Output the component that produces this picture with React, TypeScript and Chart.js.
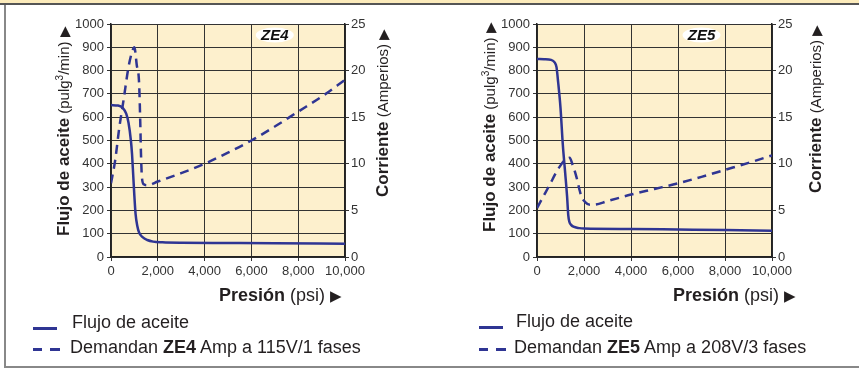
import React, { useEffect, useRef } from 'react';
import { Chart, registerables } from 'chart.js';

Chart.register(...registerables);

// ---------- DATA ----------
const xTickLabels = ['0', '2,000', '4,000', '6,000', '8,000', '10,000'];
const flowTickLabels = ['0', '100', '200', '300', '400', '500', '600', '700', '800', '900', '1000'];
const ampTickLabels = ['0', '5', '10', '15', '20', '25'];

// ZE4
const ze4FlowPressure = [0, 300, 500, 650, 750, 850, 900, 950, 1000, 1050, 1120, 1200, 1350, 1550, 1800, 2200, 3000, 5000, 7000, 10000];
const ze4Flow = [652, 650, 640, 615, 575, 500, 440, 350, 260, 185, 135, 105, 85, 73, 66, 63, 61, 60, 59, 57];
const ze4AmpPressure = [0, 180, 350, 540, 750, 900, 1000, 1100, 1200, 1250, 1280, 1320, 1400, 1550, 2000, 3000, 4000, 5000, 6000, 7000, 8000, 9000, 10000];
const ze4Amp = [7.9, 10.4, 13.8, 16.9, 20.4, 22.0, 22.5, 20.6, 18.7, 14.5, 11.2, 8.6, 7.8, 7.7, 8.1, 9.0, 10.0, 11.2, 12.5, 14.0, 15.6, 17.2, 19.0];

// ZE5
const ze5FlowPressure = [0, 300, 600, 750, 830, 900, 1000, 1100, 1200, 1280, 1330, 1380, 1450, 1550, 1800, 2000, 4000, 6000, 8000, 10000];
const ze5Flow = [850, 849, 846, 835, 815, 750, 640, 480, 360, 260, 180, 150, 138, 130, 124, 122, 120, 118, 116, 113];
const ze5AmpPressure = [0, 270, 540, 800, 966, 1150, 1390, 1500, 1677, 1800, 1889, 2050, 2250, 2400, 3000, 4000, 5000, 6000, 7000, 8000, 9000, 10000];
const ze5Amp = [5.25, 6.5, 7.75, 9.0, 9.7, 10.3, 10.65, 10.0, 8.6, 7.3, 6.5, 5.9, 5.6, 5.6, 6.0, 6.7, 7.3, 7.9, 8.6, 9.35, 10.1, 10.9];

const LINE = '#2f3593';
const PLOT_BG = '#fdf0cd';
const TEXT = '#333333';
const FONT = '"Liberation Sans", Arial, Helvetica, sans-serif';

type PanelProps = {
  left: number;
  width: number;
  yWidth: number;
  y1Width: number;
  flowP: number[];
  flow: number[];
  ampP: number[];
  amp: number[];
  tag: string;
};

const toPoints = (xs: number[], ys: number[]) => xs.map((x, i) => ({ x, y: ys[i] }));

function ChartPanel(p: PanelProps) {
  const ref = useRef<HTMLCanvasElement | null>(null);
  useEffect(() => {
    if (!ref.current) return;
    const bgPlugin = {
      id: 'bg',
      beforeDraw(chart: any) {
        const { ctx, chartArea: a } = chart;
        ctx.save();
        ctx.fillStyle = PLOT_BG;
        ctx.fillRect(a.left, a.top, a.right - a.left, a.bottom - a.top);
        ctx.restore();
      },
      afterDraw(chart: any) {
        const { ctx } = chart;
        const cx = chart.scales.x.getPixelForValue(7000);
        const cy = chart.scales.y.getPixelForValue(953);
        ctx.save();
        ctx.fillStyle = '#ffffff';
        ctx.beginPath();
        ctx.ellipse(cx, cy, 19, 7.5, 0, 0, Math.PI * 2);
        ctx.fill();
        ctx.fillStyle = '#111111';
        ctx.font = `italic bold 15px ${FONT}`;
        ctx.textAlign = 'center';
        ctx.textBaseline = 'middle';
        ctx.fillText(p.tag, cx, cy + 1);
        ctx.restore();
      },
    };
    const tickFont = { family: FONT, size: 13 };
    const chart = new Chart(ref.current, {
      type: 'line',
      data: {
        datasets: [
          {
            label: 'Flujo de aceite',
            data: toPoints(p.flowP, p.flow),
            borderColor: LINE,
            borderWidth: 2.5,
            pointRadius: 0,
            cubicInterpolationMode: 'monotone',
            yAxisID: 'y',
          },
          {
            label: 'Amp',
            data: toPoints(p.ampP, p.amp),
            borderColor: LINE,
            borderWidth: 2.5,
            borderDash: [9, 6],
            pointRadius: 0,
            cubicInterpolationMode: 'monotone',
            yAxisID: 'y1',
          },
        ],
      },
      options: {
        animation: false,
        responsive: false,
        devicePixelRatio: 1,
        layout: { padding: { left: 0, right: 0, top: 24, bottom: 88 } },
        plugins: { legend: { display: false }, tooltip: { enabled: false } },
        scales: {
          x: {
            type: 'linear',
            min: 0,
            max: 10000,
            ticks: {
              stepSize: 2000,
              autoSkip: false,
              maxRotation: 0,
              font: tickFont,
              color: TEXT,
              padding: 3,
              callback: (v: any) => xTickLabels[Math.round(v / 2000)],
            },
            grid: { color: '#333333', lineWidth: 1, tickLength: 4 },
            border: { color: '#222222', width: 1.5 },
            afterFit: (s: any) => { s.height = 24; },
          },
          y: {
            position: 'left',
            min: 0,
            max: 1000,
            ticks: {
              stepSize: 100,
              font: tickFont,
              color: TEXT,
              padding: 3,
              callback: (v: any) => flowTickLabels[Math.round(v / 100)],
            },
            grid: { color: '#333333', lineWidth: 1, tickLength: 4 },
            border: { color: '#222222', width: 1.5 },
            afterFit: (s: any) => { s.width = p.yWidth; },
          },
          y1: {
            position: 'right',
            min: 0,
            max: 25,
            ticks: {
              stepSize: 5,
              font: tickFont,
              color: TEXT,
              padding: 2,
              callback: (v: any) => ampTickLabels[Math.round(v / 5)],
            },
            grid: { drawOnChartArea: false, color: '#333333', tickLength: 4 },
            border: { color: '#222222', width: 1.5 },
            afterFit: (s: any) => { s.width = p.y1Width; },
          },
        },
      } as any,
      plugins: [bgPlugin],
    });
    return () => chart.destroy();
  }, []);
  return (
    <canvas
      ref={ref}
      width={p.width}
      height={369}
      style={{ position: 'absolute', left: p.left, top: 0, width: p.width, height: 369 }}
    />
  );
}

function VTitle(props: { cx: number; bottom: number; bold: string; rest: React.ReactNode }) {
  return (
    <div
      style={{
        position: 'absolute',
        left: props.cx - 10,
        top: props.bottom,
        height: 20,
        lineHeight: '20px',
        whiteSpace: 'nowrap',
        transform: 'rotate(-90deg)',
        transformOrigin: '0 0',
        fontFamily: FONT,
        color: '#231f20',
      }}
    >
      <span style={{ fontWeight: 'bold', fontSize: 17 }}>{props.bold}</span>
      <span style={{ fontSize: 15 }}> {props.rest}</span>
      <span style={{ fontSize: 14, marginLeft: 4 }}>▶</span>
    </div>
  );
}

function Legend(props: { x: number; lineX: number; y1: number; y2: number; tag: string; tail: string }) {
  const txt: React.CSSProperties = {
    position: 'absolute',
    fontFamily: FONT,
    fontSize: 18,
    lineHeight: '20px',
    color: '#231f20',
    whiteSpace: 'nowrap',
  };
  return (
    <>
      <div style={{ position: 'absolute', left: props.lineX, top: props.y1 + 5, width: 24, height: 3, background: LINE }} />
      <div style={{ ...txt, left: props.x, top: props.y1 - 10 }}>Flujo de aceite</div>
      <div style={{ position: 'absolute', left: props.lineX, top: props.y2 + 1, width: 9, height: 3, background: LINE }} />
      <div style={{ position: 'absolute', left: props.lineX + 17, top: props.y2 + 1, width: 10, height: 3, background: LINE }} />
      <div style={{ ...txt, left: props.x - 2, top: props.y2 - 10 }}>
        Demandan <b>{props.tag}</b> {props.tail}
      </div>
    </>
  );
}

function Presion(props: { x: number; y: number }) {
  return (
    <div
      style={{
        position: 'absolute',
        left: props.x,
        top: props.y - 10,
        lineHeight: '20px',
        fontFamily: FONT,
        fontSize: 18,
        color: '#231f20',
        whiteSpace: 'nowrap',
      }}
    >
      <b>Presión</b> (psi) <span style={{ fontSize: 15 }}>▶</span>
    </div>
  );
}

export default function App() {
  return (
    <div style={{ position: 'absolute', left: 0, top: 0, width: 859, height: 369, background: '#ffffff', overflow: 'hidden' }}>
      {/* frame */}
      <div style={{ position: 'absolute', left: 0, top: 0, width: 859, height: 3, background: '#fcebbb' }} />
      <div style={{ position: 'absolute', left: 0, top: 3, width: 859, height: 2, background: '#555555' }} />
      <div style={{ position: 'absolute', left: 4, top: 5, width: 2, height: 362, background: '#888888' }} />
      <div style={{ position: 'absolute', left: 4, top: 366, width: 855, height: 2, background: '#888888' }} />

      <ChartPanel left={0} width={430} yWidth={111} y1Width={85}
        flowP={ze4FlowPressure} flow={ze4Flow} ampP={ze4AmpPressure} amp={ze4Amp} tag="ZE4" />
      <ChartPanel left={430} width={429} yWidth={107} y1Width={87}
        flowP={ze5FlowPressure} flow={ze5Flow} ampP={ze5AmpPressure} amp={ze5Amp} tag="ZE5" />

      <VTitle cx={60} bottom={236} bold="Flujo de aceite" rest={<>(pulg<sup style={{ fontSize: 10 }}>3</sup>/min)</>} />
      <VTitle cx={383} bottom={197} bold="Corriente" rest="(Amperios)" />
      <VTitle cx={486} bottom={232} bold="Flujo de aceite" rest={<>(pulg<sup style={{ fontSize: 10 }}>3</sup>/min)</>} />
      <VTitle cx={816} bottom={193} bold="Corriente" rest="(Amperios)" />

      <Presion x={219} y={295} />
      <Presion x={673} y={295} />

      <Legend lineX={33} x={72} y1={322} y2={347} tag="ZE4" tail="Amp a 115V/1 fases" />
      <Legend lineX={479} x={516} y1={321} y2={347} tag="ZE5" tail="Amp a 208V/3 fases" />
    </div>
  );
}
